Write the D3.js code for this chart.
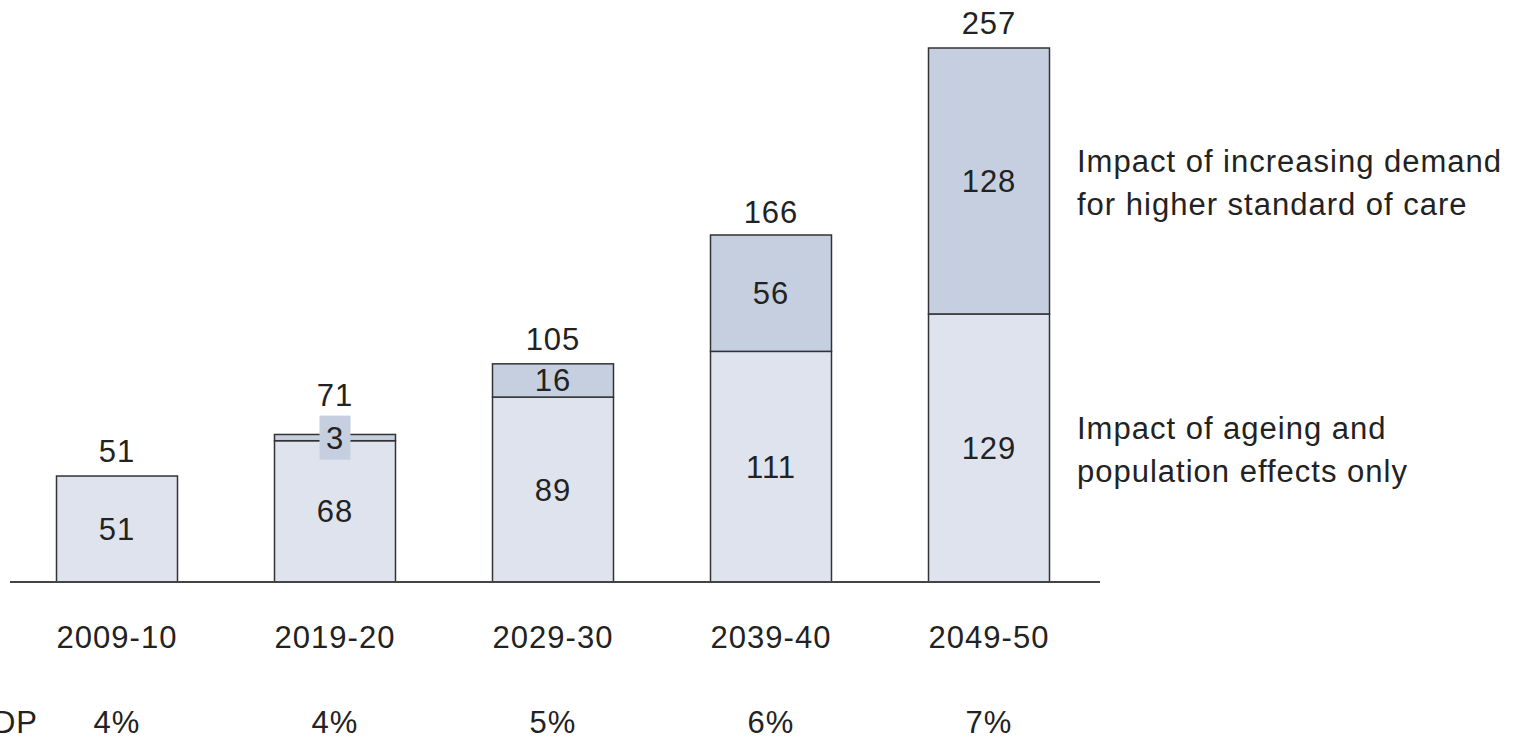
<!DOCTYPE html>
<html lang="en">
<head>
    <meta charset="UTF-8">
    <title>Care spending projection</title>
    <style>
        body { margin: 0; background: #fff; }
        svg text { font-family: "Liberation Sans", Arial, sans-serif; fill: #222; letter-spacing: 1px; }
    </style>
</head>
<body>
<svg width="1523" height="737"></svg>
<script src="https://d3js.org/d3.v7.min.js"></script>
<script>
    let years = ["2009-10", "2019-20", "2029-30", "2039-40", "2049-50"];
    let ageing = [51, 68, 89, 111, 129];
    let standard = [0, 3, 16, 56, 128];
    let totals = [51, 71, 105, 166, 257];
    let gdpShare = ["4%", "4%", "5%", "6%", "7%"];
    let legendTop = ["Impact of increasing demand", "for higher standard of care"];
    let legendBottom = ["Impact of ageing and", "population effects only"];

    let svg = d3.select("svg"),
        fs = 31,
        baseY = 582,
        boxH = 44;

    let x = d3.scaleBand().domain(years).range([8, 1098])
        .paddingInner(0.445).paddingOuter(0.2225);
    let y = d3.scaleLinear().domain([0, 257]).range([baseY, 48]);

    let data = years.map(function (yr, i) {
        let mid = (y(ageing[i]) + y(ageing[i] + standard[i])) / 2;
        let small = standard[i] > 0 && y(ageing[i]) - y(ageing[i] + standard[i]) < 20;
        return {year: yr, a: ageing[i], s: standard[i], t: totals[i], g: gdpShare[i],
            mid: mid, small: small};
    });

    // lower segment
    svg.selectAll(".low").data(data).enter().append("rect")
        .attr("x", d => x(d.year)).attr("width", x.bandwidth())
        .attr("y", d => y(d.a)).attr("height", d => baseY - y(d.a))
        .attr("fill", "#dfe3ee").attr("stroke", "#333").attr("stroke-width", 1.5);

    // upper segment
    svg.selectAll(".up").data(data.filter(d => d.s > 0)).enter().append("rect")
        .attr("x", d => x(d.year)).attr("width", x.bandwidth())
        .attr("y", d => y(d.a + d.s)).attr("height", d => y(d.a) - y(d.a + d.s))
        .attr("fill", "#c5cfe0").attr("stroke", "#333").attr("stroke-width", 1.5);

    // axis line
    svg.append("line").attr("x1", 10).attr("x2", 1100).attr("y1", baseY).attr("y2", baseY)
        .attr("stroke", "#444").attr("stroke-width", 2);

    // lower labels
    svg.selectAll(".lowlab").data(data).enter().append("text")
        .attr("x", d => x(d.year) + x.bandwidth() / 2)
        .attr("y", d => (y(d.a) + baseY) / 2 + 11)
        .attr("text-anchor", "middle").attr("font-size", fs)
        .text(d => d.a);

    // upper labels (small segment gets a background box)
    let up = svg.selectAll(".uplab").data(data.filter(d => d.s > 0)).enter().append("g")
        .attr("transform", d => "translate(" + (x(d.year) + x.bandwidth() / 2) + "," + d.mid + ")");
    up.filter(d => d.small).append("rect")
        .attr("x", -15.5).attr("y", -boxH / 2).attr("width", 31).attr("height", boxH)
        .attr("fill", "#c5cfe0");
    up.append("text").attr("y", 11).attr("text-anchor", "middle").attr("font-size", fs)
        .text(d => d.s);

    // totals
    svg.selectAll(".tot").data(data).enter().append("text")
        .attr("x", d => x(d.year) + x.bandwidth() / 2)
        .attr("y", d => d.small ? d.mid - boxH / 2 - 10 : y(d.t) - 14)
        .attr("text-anchor", "middle").attr("font-size", fs)
        .text(d => d.t);

    // category labels
    svg.selectAll(".cat").data(data).enter().append("text")
        .attr("x", d => x(d.year) + x.bandwidth() / 2).attr("y", 648)
        .attr("text-anchor", "middle").attr("font-size", fs)
        .text(d => d.year);

    // % of GDP row
    svg.selectAll(".gdp").data(data).enter().append("text")
        .attr("x", d => x(d.year) + x.bandwidth() / 2).attr("y", 733)
        .attr("text-anchor", "middle").attr("font-size", fs)
        .text(d => d.g);
    svg.append("text").attr("x", 38).attr("y", 733).attr("text-anchor", "end")
        .attr("font-size", fs).text("% of GDP");

    // legend text
    function legend(lines, cy) {
        svg.append("text").attr("x", 1077).attr("font-size", fs)
            .selectAll("tspan").data(lines).enter().append("tspan")
            .attr("x", 1077).attr("y", (d, i) => cy + i * 43).text(d => d);
    }
    legend(legendTop, 172);
    legend(legendBottom, 439);
</script>
</body>
</html>
